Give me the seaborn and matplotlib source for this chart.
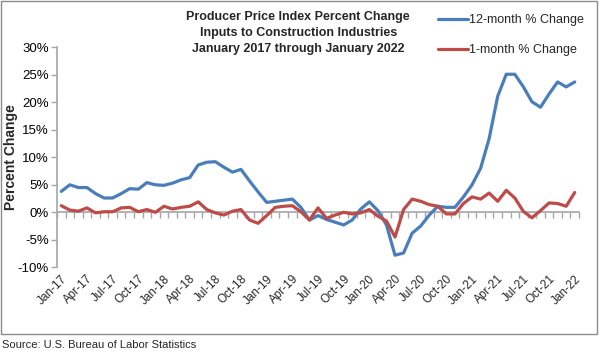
import matplotlib
matplotlib.use("Agg")
import matplotlib.pyplot as plt
import seaborn as sns
import pandas as pd
import numpy as np
from matplotlib.patches import Rectangle
from matplotlib.lines import Line2D

# ---- data ----
months = ["Jan-17","Feb-17","Mar-17","Apr-17","May-17","Jun-17","Jul-17","Aug-17","Sep-17","Oct-17","Nov-17","Dec-17",
          "Jan-18","Feb-18","Mar-18","Apr-18","May-18","Jun-18","Jul-18","Aug-18","Sep-18","Oct-18","Nov-18","Dec-18",
          "Jan-19","Feb-19","Mar-19","Apr-19","May-19","Jun-19","Jul-19","Aug-19","Sep-19","Oct-19","Nov-19","Dec-19",
          "Jan-20","Feb-20","Mar-20","Apr-20","May-20","Jun-20","Jul-20","Aug-20","Sep-20","Oct-20","Nov-20","Dec-20",
          "Jan-21","Feb-21","Mar-21","Apr-21","May-21","Jun-21","Jul-21","Aug-21","Sep-21","Oct-21","Nov-21","Dec-21",
          "Jan-22"]
twelve_month = [3.8, 5.0, 4.5, 4.5, 3.4, 2.6, 2.6, 3.4, 4.3, 4.2, 5.4, 5.0,
                4.9, 5.3, 5.9, 6.3, 8.6, 9.1, 9.2, 8.2, 7.3, 7.8, 5.7, 3.7,
                1.8, 2.0, 2.2, 2.4, 0.9, -1.4, -0.6, -1.3, -1.8, -2.3, -1.4, 0.6,
                1.9, 0.3, -2.3, -7.8, -7.4, -3.8, -2.5, -0.5, 1.1, 0.9, 0.9, 2.8,
                5.0, 8.0, 13.4, 21.1, 25.1, 25.1, 22.8, 20.1, 19.1, 21.5, 23.7, 22.8,
                23.7]
one_month = [1.2, 0.4, 0.2, 0.8, -0.1, 0.1, 0.1, 0.8, 0.9, 0.1, 0.5, 0.0,
             1.1, 0.6, 0.9, 1.1, 1.9, 0.5, -0.1, -0.5, 0.2, 0.5, -1.4, -2.0,
             -0.6, 0.9, 1.1, 1.2, 0.1, -1.4, 0.8, -1.1, -0.5, 0.0, -0.3, -0.1,
             0.5, -0.7, -1.6, -4.5, 0.5, 2.4, 2.0, 1.4, 1.1, -0.3, -0.3, 1.6,
             2.8, 2.4, 3.5, 2.0, 4.0, 2.6, 0.15, -1.0, 0.3, 1.7, 1.6, 1.1,
             3.6]
series_names = ["12-month % Change", "1-month % Change"]
y_ticks = [-10, -5, 0, 5, 10, 15, 20, 25, 30]
title_lines = ["Producer Price Index Percent Change",
               "Inputs to Construction Industries",
               "January 2017 through January 2022"]
source_text = "Source: U.S. Bureau of Labor Statistics"

# ---- style ----
sns.set_theme(style="white")
plt.rcParams['font.family'] = ['Liberation Sans', 'DejaVu Sans']

colors = {"12-month % Change": "#4a7ebb", "1-month % Change": "#be4b48"}
axis_gray = "#a6a6a6"

n = len(months)
df = pd.DataFrame({
    "idx": list(range(n)) * 2,
    "value": twelve_month + one_month,
    "series": [series_names[0]] * n + [series_names[1]] * n,
})

fig = plt.figure(figsize=(6.0, 3.54), dpi=100)
ax = fig.add_axes([57/600, 1-267.3/354, (579-57)/600, (267.3-47.3)/354])

sns.lineplot(data=df, x="idx", y="value", hue="series", palette=colors,
             linewidth=2.3, ax=ax, legend=False, sort=False)

ax.set_xlim(-0.5, n - 0.5)
ax.set_ylim(-10, 30)

# y axis
ax.set_yticks(y_ticks)
ax.set_yticklabels([f"{v}%" for v in y_ticks], fontsize=9.5, color="black")
ax.tick_params(axis="y", which="major", direction="out", length=4, width=1,
               color=axis_gray, left=True, pad=2)
ax.set_ylabel("Percent Change", fontsize=10, fontweight="bold", labelpad=2)
ax.yaxis.set_label_coords(-0.075, 0.5)

# x labels at bottom, no spine
for s in ["top", "right", "bottom"]:
    ax.spines[s].set_visible(False)
ax.spines["left"].set_color(axis_gray)
ax.spines["left"].set_linewidth(1.2)
label_pos = list(range(0, n, 3))
ax.set_xticks(label_pos)
ax.set_xticklabels([months[i] for i in label_pos], rotation=45, ha="right",
                   rotation_mode="anchor", fontsize=8.5)
ax.tick_params(axis="x", which="both", length=0, pad=4)
ax.set_xlabel("")

# zero axis with tick marks between categories
sec = ax.secondary_xaxis(0.25)
sec.set_xticks(np.arange(-0.5, n, 1.0))
sec.set_xticklabels([])
sec.tick_params(axis="x", direction="out", length=4, width=1, color=axis_gray)
sec.spines["bottom"].set_color(axis_gray)
sec.spines["bottom"].set_linewidth(1.2)

# title
fig.text(0.497, 1-11/354, "\n".join(title_lines), ha="center", va="top",
         fontsize=9, fontweight="bold", linespacing=1.45)

# legend
handles = [Line2D([], [], color=colors[s], linewidth=2.3) for s in series_names]
fig.legend(handles, series_names, loc="upper left",
           bbox_to_anchor=(438/600, 1-14/354), frameon=False, fontsize=9,
           handlelength=2.4, handletextpad=0.1, labelspacing=1.45,
           borderpad=0, borderaxespad=0)

# chart border
fig.patches.append(Rectangle((1/600, 1-334/354), 596/600, 333/354,
                             transform=fig.transFigure, fill=False,
                             edgecolor="#8c8c8c", linewidth=1.0))

fig.text(2/600, 1-345/354, source_text, ha="left", va="center", fontsize=8)

fig.savefig("out.png", dpi=100)
